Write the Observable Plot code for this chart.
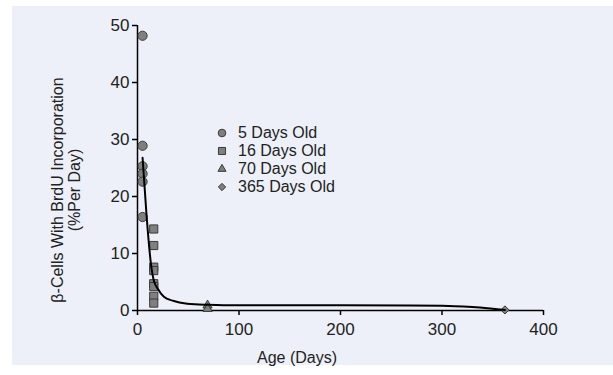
<!DOCTYPE html>
<html>
<head>
<meta charset="utf-8">
<script src="https://cdn.jsdelivr.net/npm/d3@7"></script>
<script src="https://cdn.jsdelivr.net/npm/@observablehq/plot@0.6"></script>
<style>
  html, body { margin: 0; padding: 0; background: #ffffff; }
  #wrap { position: relative; width: 613px; height: 375px; overflow: hidden; font-family: "Liberation Sans", Arial, sans-serif; color: #222; }
  #panel { position: absolute; left: 12px; top: 6px; width: 601px; height: 359px; background: #edf0f8; }
  #chart { position: absolute; left: 0; top: 0; }
  #chart svg { background: transparent !important; }
  .ylab { position: absolute; left: 66px; top: 190px; transform: translate(-50%, -50%) rotate(-90deg); text-align: center; font-size: 16px; line-height: 17px; white-space: nowrap; color: #222; }
  .xlab { position: absolute; left: 297px; top: 358px; transform: translate(-50%, -50%); font-size: 16px; line-height: 18px; color: #222; white-space: nowrap; }
  #legend { position: absolute; left: 214px; top: 124px; font-size: 16px; color: #222; }
  #legend .row { height: 18px; line-height: 18px; display: flex; align-items: center; white-space: nowrap; }
  #legend svg { width: 16px; height: 18px; margin-right: 8px; }
</style>
</head>
<body>
<div id="wrap">
  <div id="panel"></div>
  <div id="chart"></div>
  <div class="ylab">β-Cells With BrdU Incorporation<br>(%Per Day)</div>
  <div class="xlab">Age (Days)</div>
  <div id="legend"></div>
</div>
<script>
// Group labels and symbols
const groups = ["5 Days Old", "16 Days Old", "70 Days Old", "365 Days Old"];
const symbols = ["circle", "square", "triangle", "diamond2"];

// Observations per group (age in days, % per day)
const age5 = [5, 5, 5, 5, 5, 5];
const val5 = [48.2, 28.9, 25.3, 24.0, 22.6, 16.4];
const age16 = [16, 16, 16, 16, 16, 16, 16, 16];
const val16 = [14.3, 11.4, 7.6, 7.0, 4.7, 4.2, 2.5, 1.3];
const age70 = [69, 69];
const val70 = [0.9, 0.3];
const age365 = [362];
const val365 = [0.1];

// Fitted curve
const fitX = [5, 9, 13.5, 16, 20, 26, 35, 49, 70, 100, 200, 300, 330, 350, 362];
const fitY = [26.8, 16.5, 7.8, 5.3, 3.8, 2.4, 1.7, 1.2, 1.0, 0.9, 0.9, 0.85, 0.6, 0.3, 0.1];

// Ticks
const xTicks = [0, 100, 200, 300, 400];
const yTicks = [0, 10, 20, 30, 40, 50];

const symbolSizes = {circle: 4.6, square: 4.6, triangle: 3.4, diamond2: 3.7};
const legendSizes = {circle: 3.8, square: 4.0, triangle: 3.0, diamond2: 3.3};
const d3Sym = {circle: d3.symbolCircle, square: d3.symbolSquare, triangle: d3.symbolTriangle, diamond2: d3.symbolDiamond2};

const series = [[age5, val5], [age16, val16], [age70, val70], [age365, val365]].map(([xs, ys], gi) =>
  xs.map((x, i) => ({age: x, value: ys[i], group: groups[gi]}))
);
const fit = fitX.map((x, i) => ({age: x, value: fitY[i]}));

const ink = "#222";
const plot = Plot.plot({
  width: 613,
  height: 375,
  marginLeft: 137,
  marginRight: 70,
  marginTop: 25,
  marginBottom: 65,
  style: {background: "transparent", fontFamily: "'Liberation Sans', Arial, sans-serif", fontSize: "17px", color: ink},
  x: {domain: [0, 400], ticks: xTicks, label: null},
  y: {domain: [0, 50], ticks: yTicks, label: null},
  marks: [
    Plot.axisX({ticks: xTicks, tickSize: 5, tickPadding: 7, stroke: "#000", strokeWidth: 1.5, fontSize: 17, fill: ink, label: null}),
    Plot.axisY({ticks: yTicks, tickSize: 5, tickPadding: 3, stroke: "#000", strokeWidth: 1.5, fontSize: 17, fill: ink, label: null}),
    Plot.ruleY([0], {stroke: "#000", strokeWidth: 1.5}),
    Plot.ruleX([0], {stroke: "#000", strokeWidth: 1.5}),
    ...series.map((data, gi) => Plot.dot(data, {x: "age", y: "value", symbol: () => symbols[gi], r: symbolSizes[symbols[gi]], fill: "#7f7f7f", stroke: "#3a3a3a", strokeWidth: 1})),
    Plot.line(fit, {x: "age", y: "value", curve: "monotone-x", stroke: "#000", strokeWidth: 2})
  ]
});
document.getElementById("chart").appendChild(plot);

// Legend
const legend = document.getElementById("legend");
groups.forEach((g, i) => {
  const row = document.createElement("div");
  row.className = "row";
  const rr = legendSizes[symbols[i]];
  const sym = d3.symbol(d3Sym[symbols[i]], Math.PI * rr * rr)();
  row.innerHTML = `<svg viewBox="-8 -9 16 18"><path d="${sym}" fill="#7f7f7f" stroke="#3a3a3a" stroke-width="1"></path></svg><span>${g}</span>`;
  legend.appendChild(row);
});
</script>
</body>
</html>
